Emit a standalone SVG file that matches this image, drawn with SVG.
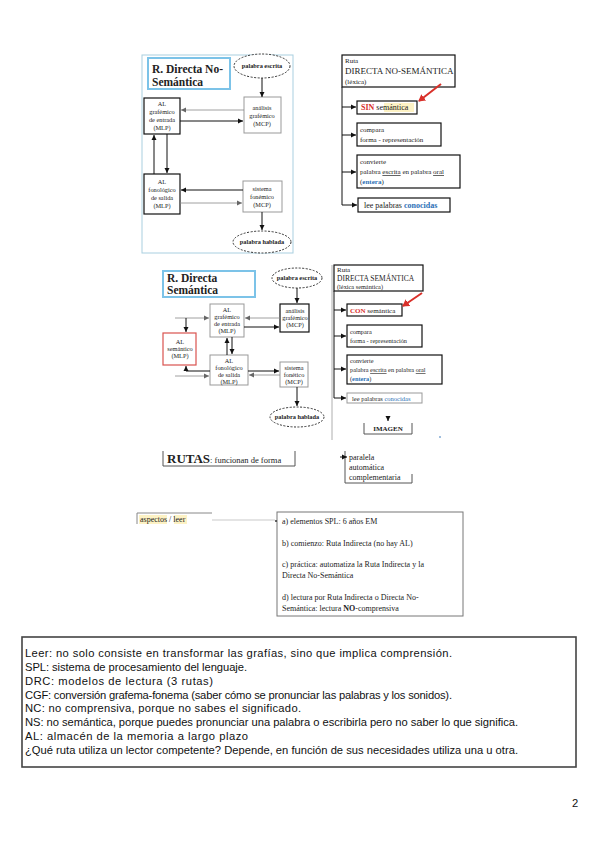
<svg xmlns="http://www.w3.org/2000/svg" width="600" height="848" viewBox="0 0 600 848">
<defs>
<marker id="ab" markerWidth="6" markerHeight="6" refX="5" refY="3" orient="auto" markerUnits="userSpaceOnUse"><path d="M0,0.5 L5,3 L0,5.5 z" fill="#111"/></marker>
<marker id="ag" markerWidth="6" markerHeight="6" refX="5" refY="3" orient="auto" markerUnits="userSpaceOnUse"><path d="M0,0.5 L5,3 L0,5.5 z" fill="#666"/></marker>
<marker id="ar" markerWidth="8" markerHeight="8" refX="6" refY="4" orient="auto" markerUnits="userSpaceOnUse"><path d="M0,0 L7,4 L0,8 z" fill="#d9302a"/></marker>
<style>
.s{font-family:"Liberation Serif","Times New Roman",serif;fill:#222}
.t{font-size:6.3px;text-anchor:middle}
.ti{font-size:11.5px;font-weight:bold}
.r{font-size:8px}
.sm{font-size:7px}
.bx{fill:#fff;stroke:#111;stroke-width:1.2}
.bg{fill:#fff;stroke:#999;stroke-width:1}
.ell{fill:#fff;stroke:#333;stroke-width:1;stroke-dasharray:2,1.5}
.blu{fill:#fff;stroke:#7cc3e8;stroke-width:2}
.lk{stroke:#111;stroke-width:1;fill:none}
.lg{stroke:#888;stroke-width:0.8;fill:none}
.a{font-family:"Liberation Sans",Arial,sans-serif;font-size:11.2px;fill:#111}
</style>
</defs>
<rect width="600" height="848" fill="#fff"/>

<!-- ===== Top-left diagram ===== -->
<g id="frame1"><rect x="142" y="55" width="151" height="198" fill="none" stroke="#a9cfe0" stroke-width="1"/></g>
<g id="title1"><rect class="blu" x="148" y="58" width="82" height="31"/>
<text class="s ti" x="152" y="73">R. Directa No-</text><text class="s ti" x="152" y="86">Semántica</text></g>
<g id="pe1"><ellipse class="ell" cx="262" cy="66" rx="28" ry="12"/><text class="s t" x="262" y="68" font-weight="bold">palabra escrita</text></g>
<g id="alg1"><rect class="bx" x="144" y="98" width="36" height="36"/>
<text class="s t" x="162" y="106">AL</text><text class="s t" x="162" y="114">grafémico</text><text class="s t" x="162" y="122">de entrada</text><text class="s t" x="162" y="130">(MLP)</text></g>
<g id="an1"><rect class="bg" x="244" y="97" width="37" height="36"/>
<text class="s t" x="262" y="110">análisis</text><text class="s t" x="262" y="118">grafémico</text><text class="s t" x="262" y="126">(MCP)</text></g>
<g id="alf1"><rect class="bx" x="144" y="174" width="36" height="40"/>
<text class="s t" x="162" y="184">AL</text><text class="s t" x="162" y="192">fonológico</text><text class="s t" x="162" y="200">de salida</text><text class="s t" x="162" y="208">(MLP)</text></g>
<g id="sf1"><rect class="bg" x="243" y="181" width="39" height="31"/>
<text class="s t" x="262" y="191">sistema</text><text class="s t" x="262" y="199">fonémico</text><text class="s t" x="262" y="207">(MCP)</text></g>
<g id="ph1"><ellipse class="ell" cx="262" cy="242" rx="29" ry="11"/><text class="s t" x="262" y="244" font-weight="bold">palabra hablada</text></g>

<g id="connectors1">
<line class="lk" x1="262" y1="78" x2="262" y2="97" marker-end="url(#ab)"/>
<line class="lg" x1="244" y1="110" x2="181" y2="110" marker-end="url(#ag)"/>
<line class="lk" x1="180" y1="121" x2="243" y2="121" marker-end="url(#ab)"/>
<line class="lk" x1="154" y1="174" x2="154" y2="135" marker-end="url(#ab)"/>
<line class="lk" x1="167" y1="134" x2="167" y2="173" marker-end="url(#ab)"/>
<line class="lk" x1="243" y1="190" x2="181" y2="190" marker-end="url(#ab)"/>
<line class="lg" x1="180" y1="203" x2="242" y2="203" marker-end="url(#ag)"/>
<line class="lk" x1="262" y1="212" x2="262" y2="230" marker-end="url(#ab)"/>
</g>

<!-- ===== Top-right ===== -->
<g id="ruta1"><rect class="bx" x="342" y="55" width="113" height="32"/>
<text class="s sm" x="345" y="63">Ruta</text><text class="s" font-size="9" x="345" y="74">DIRECTA NO-SEMÁNTICA</text><text class="s sm" x="345" y="84">(léxica)</text></g>
<g id="sin1"><rect class="bx" x="357" y="101" width="60" height="13"/>
<rect x="384" y="103" width="30" height="9" fill="#fdf2c4"/>
<text class="s r" x="361" y="110"><tspan fill="#d9302a" font-weight="bold">SIN</tspan> semántica</text></g>
<g id="comp1"><rect class="bx" x="357" y="123" width="84" height="23"/>
<text class="s sm" x="360" y="132">compara</text><text class="s sm" x="360" y="142">forma - representación</text></g>
<g id="conv1"><rect class="bx" x="357" y="155" width="103" height="33"/>
<text class="s sm" x="360" y="164">convierte</text><text class="s sm" x="360" y="174">palabra <tspan text-decoration="underline">escrita</tspan> en palabra <tspan text-decoration="underline">oral</tspan></text><text class="s sm" x="360" y="184">(<tspan fill="#2a6fb5" font-weight="bold">entera</tspan>)</text></g>
<g id="lee1"><rect class="bx" x="358" y="198" width="92" height="14"/>
<text class="s r" x="364" y="208">lee palabras <tspan fill="#2a6fb5" font-weight="bold">conocidas</tspan></text></g>
<g id="connectors2">
<polyline class="lk" points="342,87 342,205 357,205" marker-end="url(#ab)"/>
<line class="lk" x1="342" y1="107" x2="356" y2="107" marker-end="url(#ab)"/>
<line class="lk" x1="342" y1="135" x2="356" y2="135" marker-end="url(#ab)"/>
<line class="lk" x1="342" y1="172" x2="356" y2="172" marker-end="url(#ab)"/>
<line x1="441" y1="84" x2="419" y2="101" stroke="#d9302a" stroke-width="2" marker-end="url(#ar)"/>
</g>

<!-- ===== Middle-left ===== -->
<g id="title2"><rect class="blu" x="163" y="271" width="92" height="26"/>
<text class="s ti" x="167" y="282">R. Directa</text><text class="s ti" x="167" y="294">Semántica</text></g>
<g id="pe2"><ellipse class="ell" cx="297" cy="278" rx="25" ry="10"/><text class="s t" x="297" y="280" font-weight="bold">palabra escrita</text></g>
<g id="alg2"><rect class="bg" x="210" y="304" width="34" height="33"/>
<text class="s t" x="227" y="312">AL</text><text class="s t" x="227" y="319">grafémico</text><text class="s t" x="227" y="326">de entrada</text><text class="s t" x="227" y="333">(MLP)</text></g>
<g id="an2"><rect class="bx" x="280" y="304" width="29" height="28"/>
<text class="s t" x="295" y="313">análisis</text><text class="s t" x="295" y="320">grafémico</text><text class="s t" x="295" y="327">(MCP)</text></g>
<g id="als2"><rect x="163" y="333" width="33" height="32" fill="#fff" stroke="#d9534f" stroke-width="1.2"/>
<text class="s t" x="180" y="344">AL</text><text class="s t" x="180" y="351">semántico</text><text class="s t" x="180" y="358">(MLP)</text></g>
<g id="alf2"><rect class="bg" x="210" y="355" width="38" height="30"/>
<text class="s t" x="229" y="363">AL</text><text class="s t" x="229" y="370">fonológico</text><text class="s t" x="229" y="377">de salida</text><text class="s t" x="229" y="384">(MLP)</text></g>
<g id="sf2"><rect class="bg" x="280" y="362" width="28" height="25"/>
<text class="s t" x="294" y="370">sistema</text><text class="s t" x="294" y="377">fonético</text><text class="s t" x="294" y="384">(MCP)</text></g>
<g id="ph2"><ellipse class="ell" cx="297" cy="417" rx="27" ry="10"/><text class="s t" x="297" y="419" font-weight="bold">palabra hablada</text></g>
<g id="connectors3">
<line class="lk" x1="297" y1="288" x2="297" y2="303" marker-end="url(#ab)"/>
<line class="lg" x1="280" y1="318" x2="245" y2="318" marker-end="url(#ag)"/>
<line class="lk" x1="244" y1="327" x2="279" y2="327" marker-end="url(#ab)"/>
<line class="lk" x1="227" y1="355" x2="227" y2="338" marker-end="url(#ab)"/>
<line class="lk" x1="232" y1="337" x2="232" y2="354" marker-end="url(#ab)"/>
<line class="lg" x1="175" y1="318" x2="209" y2="318" marker-end="url(#ag)"/>
<line class="lk" x1="186" y1="318" x2="186" y2="332" marker-end="url(#ab)"/>
<polyline class="lk" points="210,371 186,371 186,366" marker-end="url(#ab)"/>
<line class="lg" x1="175" y1="376" x2="209" y2="376" marker-end="url(#ag)"/>
<line class="lg" x1="280" y1="375" x2="249" y2="375" marker-end="url(#ag)"/>
<line class="lk" x1="248" y1="371" x2="279" y2="371" marker-end="url(#ab)"/>
<line class="lk" x1="297" y1="387" x2="297" y2="406" marker-end="url(#ab)"/>
</g>

<!-- ===== Middle-right ===== -->
<g id="ruta2"><rect class="bx" x="334" y="265" width="89" height="26"/>
<text class="s sm" x="337" y="272">Ruta</text><text class="s" font-size="7.5" x="337" y="281">DIRECTA SEMÁNTICA</text><text class="s" font-size="6.3" x="337" y="289">(léxica semántica)</text></g>
<g id="con2"><rect class="bx" x="347" y="304" width="55" height="12"/>
<text class="s sm" x="350" y="313"><tspan fill="#d9302a" font-weight="bold">CON</tspan> semántica</text></g>
<g id="comp2"><rect class="bx" x="347" y="325" width="75" height="22"/>
<text class="s" font-size="6.3" x="350" y="334">compara</text><text class="s" font-size="6.3" x="350" y="343">forma - representación</text></g>
<g id="conv2"><rect class="bx" x="347" y="355" width="95" height="29"/>
<text class="s" font-size="6.3" x="350" y="363">convierte</text><text class="s" font-size="6.3" x="350" y="372">palabra <tspan text-decoration="underline">escrita</tspan> en palabra <tspan text-decoration="underline">oral</tspan></text><text class="s" font-size="6.3" x="350" y="381">(<tspan fill="#2a6fb5" font-weight="bold">entera</tspan>)</text></g>
<g id="lee2"><rect class="bg" x="347" y="393" width="75" height="10"/>
<text class="s" font-size="6.5" x="352" y="401">lee palabras <tspan fill="#2a6fb5">conocidas</tspan></text></g>
<g id="img2"><polyline points="364,423 364,434 412,434 412,423" fill="none" stroke="#555" stroke-width="1"/>
<text class="s" font-size="7" x="388" y="431" text-anchor="middle" fill="#2a6fb5" font-weight="bold">IMAGEN</text>
<circle cx="440" cy="437" r="0.8" fill="#2a6fb5"/></g>
<g id="connectors4">
<line x1="332" y1="265" x2="332" y2="440" stroke="#999" stroke-width="0.8"/>
<polyline class="lk" points="334,291 334,398 346,398" marker-end="url(#ab)"/>
<line class="lk" x1="334" y1="310" x2="346" y2="310" marker-end="url(#ab)"/>
<line class="lk" x1="334" y1="336" x2="346" y2="336" marker-end="url(#ab)"/>
<line class="lk" x1="334" y1="369" x2="346" y2="369" marker-end="url(#ab)"/>
<line x1="422" y1="293" x2="403" y2="306" stroke="#d9302a" stroke-width="2" marker-end="url(#ar)"/>
<line class="lk" x1="388" y1="417" x2="388" y2="421" marker-end="url(#ab)"/>
</g>

<!-- ===== RUTAS ===== -->
<g id="rutas"><polyline points="163,451 163,466 295,466 295,451" fill="none" stroke="#555" stroke-width="1"/>
<text class="s" x="167" y="463"><tspan font-size="13" font-weight="bold">RUTAS</tspan><tspan font-size="8.5">: funcionan de forma</tspan></text></g>
<g id="formas"><polyline points="345,451 345,483 412,483 412,474" fill="none" stroke="#555" stroke-width="1"/>
<text class="s r" x="349" y="460">paralela</text><text class="s r" x="349" y="470">automática</text><text class="s r" x="349" y="480">complementaria</text>
<line class="lk" x1="340" y1="457" x2="347" y2="457" marker-end="url(#ab)"/></g>

<!-- ===== aspectos / leer ===== -->
<g id="aspectos"><polyline points="137,524 137,513 212,513" fill="none" stroke="#888" stroke-width="1"/>
<rect x="139" y="515" width="28" height="9" fill="#fdf2c4"/><rect x="174" y="515" width="13" height="9" fill="#fdf2c4"/>
<text class="s r" x="140" y="522">aspectos / leer</text></g>
<g id="puntos"><rect x="277" y="512" width="186" height="104" fill="#fff" stroke="#777" stroke-width="1"/>
<text class="s r" x="282" y="524">a) elementos SPL: 6 años EM</text>
<text class="s r" x="282" y="546">b) comienzo: Ruta Indirecta (no hay AL)</text>
<text class="s r" x="282" y="567">c) práctica: automatiza la Ruta Indirecta y la</text>
<text class="s r" x="282" y="578">Directa No-Semántica</text>
<text class="s r" x="282" y="600">d) lectura por Ruta Indirecta o Directa No-</text>
<text class="s r" x="282" y="611">Semántica: lectura <tspan font-weight="bold">NO</tspan>-comprensiva</text></g>
<g id="connectors5"><line x1="212" y1="520" x2="275" y2="520" stroke="#bbb" stroke-width="0.8"/><circle cx="276" cy="521" r="1" fill="#333"/></g>

<!-- ===== Notes ===== -->
<g id="notas"><rect x="22" y="637" width="554" height="130" fill="#fff" stroke="#444" stroke-width="1.6"/>
<text class="a" x="25" y="657" textLength="427" lengthAdjust="spacing">Leer: no solo consiste en transformar las grafías, sino que implica comprensión.</text>
<text class="a" x="25" y="670.9" textLength="222" lengthAdjust="spacing">SPL: sistema de procesamiento del lenguaje.</text>
<text class="a" x="25" y="684.7" textLength="188" lengthAdjust="spacing">DRC: modelos de lectura (3 rutas)</text>
<text class="a" x="25" y="698.6" textLength="427" lengthAdjust="spacing">CGF: conversión grafema-fonema (saber cómo se pronunciar las palabras y los sonidos).</text>
<text class="a" x="25" y="712.4" textLength="276" lengthAdjust="spacing">NC: no comprensiva, porque no sabes el significado.</text>
<text class="a" x="25" y="726.3" textLength="493" lengthAdjust="spacing">NS: no semántica, porque puedes pronunciar una palabra o escribirla pero no saber lo que significa.</text>
<text class="a" x="25" y="740.1" textLength="223" lengthAdjust="spacing">AL: almacén de la memoria a largo plazo</text>
<text class="a" x="25" y="754" textLength="493" lengthAdjust="spacing">¿Qué ruta utiliza un lector competente? Depende, en función de sus necesidades utiliza una u otra.</text></g>
<text class="a" x="572" y="807">2</text>
</svg>
